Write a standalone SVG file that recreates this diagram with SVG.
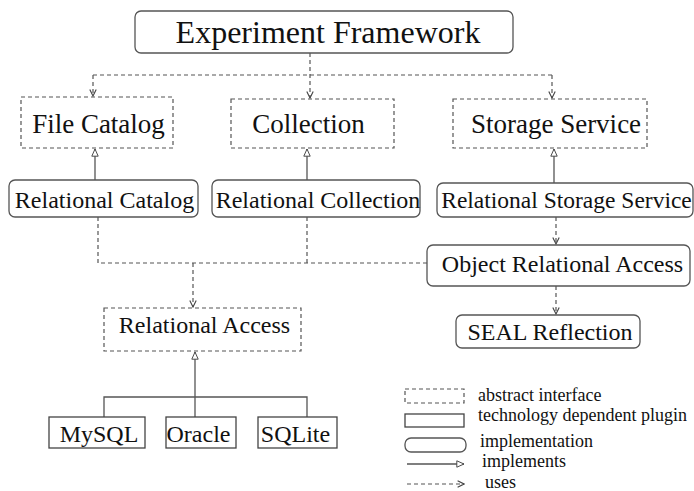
<svg xmlns="http://www.w3.org/2000/svg" width="694" height="491" viewBox="0 0 694 491" font-family="'Liberation Serif', 'Tinos', 'Times New Roman', 'DejaVu Serif', serif">
<style>
  text { font-family: "Liberation Serif", Tinos, "Times New Roman", "DejaVu Serif", serif; fill: #111; }
  .big { font-size: 32px; text-anchor: middle; }
  .mid { font-size: 27px; text-anchor: middle; }
  .lbl { font-size: 24px; text-anchor: middle; }
  .leg { font-size: 18px; }
  .abs { fill: #fff; stroke: #555; stroke-width: 1.2; stroke-dasharray: 4 3; }
  .impl { fill: #fff; stroke: #555; stroke-width: 1.3; }
  .plug { fill: #fff; stroke: #444; stroke-width: 1.3; }
  .uses { fill: none; stroke: #555; stroke-width: 1.2; stroke-dasharray: 4 3; }
  .imp { fill: none; stroke: #555; stroke-width: 1.3; }
</style>
<defs>
  <marker id="open" viewBox="0 0 10 10" refX="9" refY="5" markerWidth="8" markerHeight="8" markerUnits="userSpaceOnUse" orient="auto">
    <path d="M1,1 L9,5 L1,9" fill="none" stroke="#444" stroke-width="1.4"/>
  </marker>
  <marker id="tri" viewBox="0 0 10 10" refX="9.5" refY="5" markerWidth="10" markerHeight="8" markerUnits="userSpaceOnUse" orient="auto">
    <path d="M0.5,1 L9.5,5 L0.5,9 Z" fill="#fff" stroke="#444" stroke-width="1.2"/>
  </marker>
</defs>

<g id="connectors">
  <path class="uses" d="M310,53 V98" marker-end="url(#open)"/>
  <path class="uses" d="M93,75 H552"/>
  <path class="uses" d="M93,75 V96" marker-end="url(#open)"/>
  <path class="uses" d="M552,75 V98" marker-end="url(#open)"/>
  <path class="imp" d="M95,180 V149" marker-end="url(#tri)"/>
  <path class="imp" d="M307,180 V149" marker-end="url(#tri)"/>
  <path class="imp" d="M554,183 V149" marker-end="url(#tri)"/>
  <path class="uses" d="M98,217 V263 H427"/>
  <path class="uses" d="M307,217 V263"/>
  <path class="uses" d="M193,263 V307" marker-end="url(#open)"/>
  <path class="uses" d="M556,217 V244" marker-end="url(#open)"/>
  <path class="uses" d="M556,286 V314" marker-end="url(#open)"/>
  <path class="imp" d="M195,417 V352" marker-end="url(#tri)"/>
  <path class="imp" d="M104,417 V397 H307 V417"/>
</g>

<g id="experiment-framework">
  <rect class="impl" x="135" y="11" width="378" height="42" rx="6"/>
  <text class="big" x="328" y="43">Experiment Framework</text>
</g>
<g id="file-catalog">
  <rect class="abs" x="21" y="97" width="152" height="51"/>
  <text class="mid" x="98.5" y="133">File Catalog</text>
</g>
<g id="collection">
  <rect class="abs" x="231" y="99" width="163" height="49"/>
  <text class="mid" x="308.5" y="133">Collection</text>
</g>
<g id="storage-service">
  <rect class="abs" x="453" y="99" width="194" height="49"/>
  <text class="mid" x="556" y="133">Storage Service</text>
</g>
<g id="relational-catalog">
  <rect class="impl" x="9" y="180" width="189" height="37" rx="6"/>
  <text class="lbl" x="104.5" y="208">Relational Catalog</text>
</g>
<g id="relational-collection">
  <rect class="impl" x="212" y="180" width="208" height="37" rx="6"/>
  <text class="lbl" x="318" y="208">Relational Collection</text>
</g>
<g id="relational-storage-service">
  <rect class="impl" x="437" y="183" width="256" height="34" rx="6"/>
  <text class="lbl" x="566.5" y="208" style="font-size:23.5px">Relational Storage Service</text>
</g>
<g id="object-relational-access">
  <rect class="impl" x="427" y="245" width="263" height="41" rx="6"/>
  <text class="lbl" x="562.5" y="272">Object Relational Access</text>
</g>
<g id="seal-reflection">
  <rect class="impl" x="456" y="315" width="184" height="33" rx="6"/>
  <text class="lbl" x="550" y="340">SEAL Reflection</text>
</g>
<g id="relational-access">
  <rect class="abs" x="104" y="308" width="197" height="43"/>
  <text class="lbl" x="204.5" y="333">Relational Access</text>
</g>
<g id="mysql">
  <rect class="plug" x="49" y="417" width="96" height="31"/>
  <text class="lbl" x="99" y="442">MySQL</text>
</g>
<g id="oracle">
  <rect class="plug" x="166" y="417" width="70" height="31"/>
  <text class="lbl" x="198.5" y="442">Oracle</text>
</g>
<g id="sqlite">
  <rect class="plug" x="258" y="417" width="79" height="31"/>
  <text class="lbl" x="295.5" y="442">SQLite</text>
</g>

<g id="legend">
  <rect class="abs" x="405" y="389" width="59" height="14"/>
  <text class="leg" x="478" y="401">abstract interface</text>
  <rect class="plug" x="405" y="414" width="59" height="13"/>
  <text class="leg" x="478" y="421">technology dependent plugin</text>
  <rect class="impl" x="405" y="438" width="61" height="14" rx="6"/>
  <text class="leg" x="480" y="447">implementation</text>
  <path class="imp" d="M407,464 H464" marker-end="url(#tri)"/>
  <text class="leg" x="482" y="467">implements</text>
  <path class="uses" d="M407,484 H464" marker-end="url(#open)"/>
  <text class="leg" x="485" y="487.5">uses</text>
</g>
</svg>
